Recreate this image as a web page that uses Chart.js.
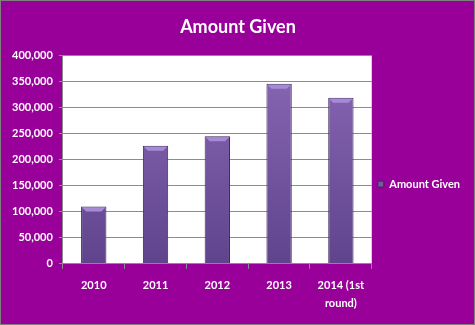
<!DOCTYPE html>
<html>
<head>
<meta charset="utf-8">
<script src="https://cdn.jsdelivr.net/npm/chart.js@4/dist/chart.umd.min.js"></script>
<style>
  html, body { margin: 0; padding: 0; background: #fff; }
  #wrap {
    width: 475px; height: 325px; box-sizing: border-box;
    border: 1px solid #7f7f7f; background: #990099;
  }
  #chart { display: block; }
</style>
</head>
<body>
<div id="wrap"><canvas id="chart" width="473" height="323"></canvas></div>
<script>
const years = ['2010', '2011', '2012', '2013', ['2014 (1st', 'round)']];
const amountGiven = [110000, 227000, 245000, 346000, 319000];
const seriesName = 'Amount Given';

const FONT = 'Lato, "Open Sans", sans-serif';

// white plot area behind the bars
const plotBg = {
  id: 'plotBg',
  beforeDraw(chart) {
    const { ctx, chartArea: a } = chart;
    ctx.save();
    ctx.fillStyle = '#ffffff';
    ctx.fillRect(a.left, a.top, a.right - a.left, a.bottom - a.top);
    ctx.restore();
  }
};

// light bevel across the top of each bar
const barBevel = {
  id: 'barBevel',
  afterDatasetsDraw(chart) {
    const ctx = chart.ctx;
    chart.getDatasetMeta(0).data.forEach(bar => {
      const half = bar.width / 2;
      const l = bar.x - half + 1, r = bar.x + half - 1, t = bar.y + 1;
      ctx.save();
      ctx.fillStyle = '#a58bd6';
      ctx.beginPath();
      ctx.moveTo(l, t);
      ctx.lineTo(r, t);
      ctx.lineTo(r - 4, t + 4);
      ctx.lineTo(l + 4, t + 4);
      ctx.closePath();
      ctx.fill();
      ctx.restore();
    });
  }
};

function barFill(c) {
  const area = c.chart.chartArea;
  if (!area) return '#7458a0';
  const g = c.chart.ctx.createLinearGradient(0, area.top, 0, area.bottom);
  g.addColorStop(0, '#8a68b6');
  g.addColorStop(1, '#5f448c');
  return g;
}

new Chart(document.getElementById('chart'), {
  type: 'bar',
  data: {
    labels: years,
    datasets: [{
      label: seriesName,
      data: amountGiven,
      backgroundColor: barFill,
      borderColor: '#3b2758',
      borderWidth: 1,
      categoryPercentage: 1,
      barPercentage: 0.41
    }]
  },
  plugins: [plotBg, barBevel],
  options: {
    responsive: false,
    animation: false,
    layout: { padding: { left: 5, right: 4, bottom: 4 } },
    plugins: {
      title: {
        display: true,
        text: 'Amount Given',
        color: '#ffffff',
        font: { family: FONT, size: 18, weight: 'bold' },
        padding: { top: 15, bottom: 18 }
      },
      legend: {
        position: 'right',
        title: { display: true, text: ' ', padding: 20, font: { size: 6 } },
        labels: {
          color: '#ffffff',
          font: { family: FONT, size: 11, weight: 'bold' },
          boxWidth: 6,
          boxHeight: 6,
          padding: 6,
          generateLabels: () => [{
            text: seriesName,
            fillStyle: '#7458a0',
            strokeStyle: '#3b2758',
            lineWidth: 1,
            fontColor: '#ffffff'
          }]
        }
      },
      tooltip: { enabled: false }
    },
    scales: {
      y: {
        min: 0,
        max: 400000,
        ticks: {
          stepSize: 50000,
          color: '#ffffff',
          font: { family: FONT, size: 11, weight: 'bold' },
          padding: 6,
          callback: v => v.toLocaleString('en-US')
        },
        grid: { color: '#8c8c8c', tickLength: 4 },
        border: { color: '#8c8c8c' }
      },
      x: {
        ticks: {
          color: '#ffffff',
          font: { family: FONT, size: 11, weight: 'bold', lineHeight: 1.6 },
          padding: 8,
          maxRotation: 0
        },
        grid: { color: '#8c8c8c', drawOnChartArea: false, tickLength: 5, offset: true },
        border: { color: '#8c8c8c' }
      }
    }
  }
});
</script>
</body>
</html>
